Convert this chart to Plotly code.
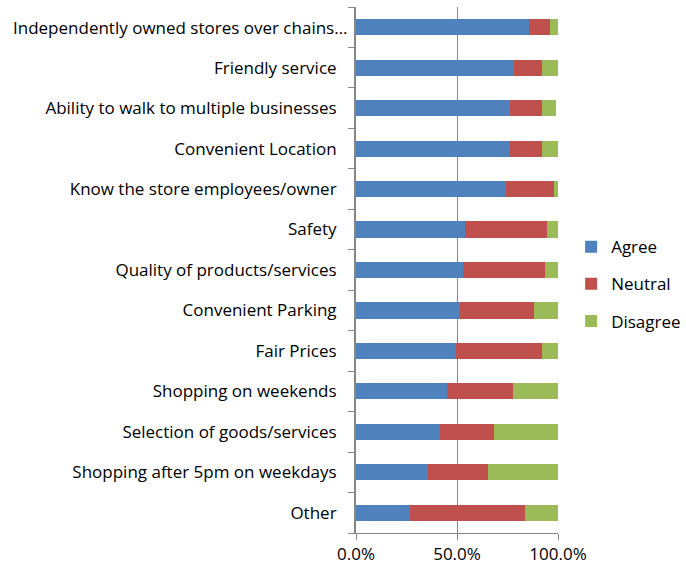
import plotly.graph_objects as go

categories = [
    "Independently owned stores over chains…",
    "Friendly service",
    "Ability to walk to multiple businesses",
    "Convenient Location",
    "Know the store employees/owner",
    "Safety",
    "Quality of products/services",
    "Convenient Parking",
    "Fair Prices",
    "Shopping on weekends",
    "Selection of goods/services",
    "Shopping after 5pm on weekdays",
    "Other",
]
agree = [85.7, 78.4, 76.3, 76.3, 74.1, 53.9, 53.0, 51.6, 49.4, 45.1, 41.4, 35.6, 26.9]
neutral = [10.2, 13.9, 16.0, 16.0, 23.8, 40.5, 40.6, 36.4, 42.7, 32.5, 26.8, 29.7, 56.6]
disagree = [4.1, 7.7, 6.6, 7.7, 2.1, 5.6, 6.4, 12.0, 7.9, 22.4, 31.8, 34.7, 16.5]

series = [("Agree", agree, "#4F81BD"), ("Neutral", neutral, "#C0504D"), ("Disagree", disagree, "#9BBB59")]

FONT = "Open Sans"
GRAY = "#868686"

fig = go.Figure()
for name, vals, color in series:
    fig.add_trace(go.Bar(
        y=categories, x=vals, name=name, orientation="h",
        marker=dict(color=color, line=dict(width=0)),
        legendgroup=name,
    ))

# the long first label is truncated and sits closer to the axis, as in the original
tick_text = [""] + categories[1:]
fig.add_annotation(
    text=categories[0], xref="paper", yref="y", x=-0.034, y=categories[0],
    xanchor="right", yanchor="middle", showarrow=False,
    font=dict(family=FONT, size=17, color="#000000"),
)

fig.update_layout(
    barmode="stack",
    bargap=0.6,
    width=686, height=565,
    margin=dict(l=356, r=128, t=7, b=32, autoexpand=False),
    paper_bgcolor="white", plot_bgcolor="white",
    font=dict(family=FONT, size=17, color="#000000"),
    legend=dict(
        x=1.065, y=0.473, xanchor="left", yanchor="middle",
        traceorder="grouped", tracegroupgap=12,
        font=dict(size=17), itemwidth=30,
    ),
    xaxis=dict(
        range=[0, 100], tickvals=[0, 50, 100], ticktext=["0.0%", "50.0%", "100.0%"],
        showgrid=True, gridcolor=GRAY, gridwidth=1,
        showline=True, linecolor=GRAY, linewidth=1,
        ticks="outside", ticklen=6, tickcolor=GRAY,
        zeroline=False, fixedrange=True,
    ),
    yaxis=dict(
        autorange="reversed",
        tickmode="array", tickvals=categories, ticktext=tick_text,
        showline=True, linecolor=GRAY, linewidth=2,
        ticks="outside", ticklen=6, tickcolor=GRAY, tickson="boundaries",
        ticklabelstandoff=14,
        showgrid=False, zeroline=False,
    ),
    showlegend=True,
)

fig.write_html(
    "out.html",
    config={"displayModeBar": False},
    post_script="document.body.style.margin='0';document.body.style.overflow='hidden';",
)
